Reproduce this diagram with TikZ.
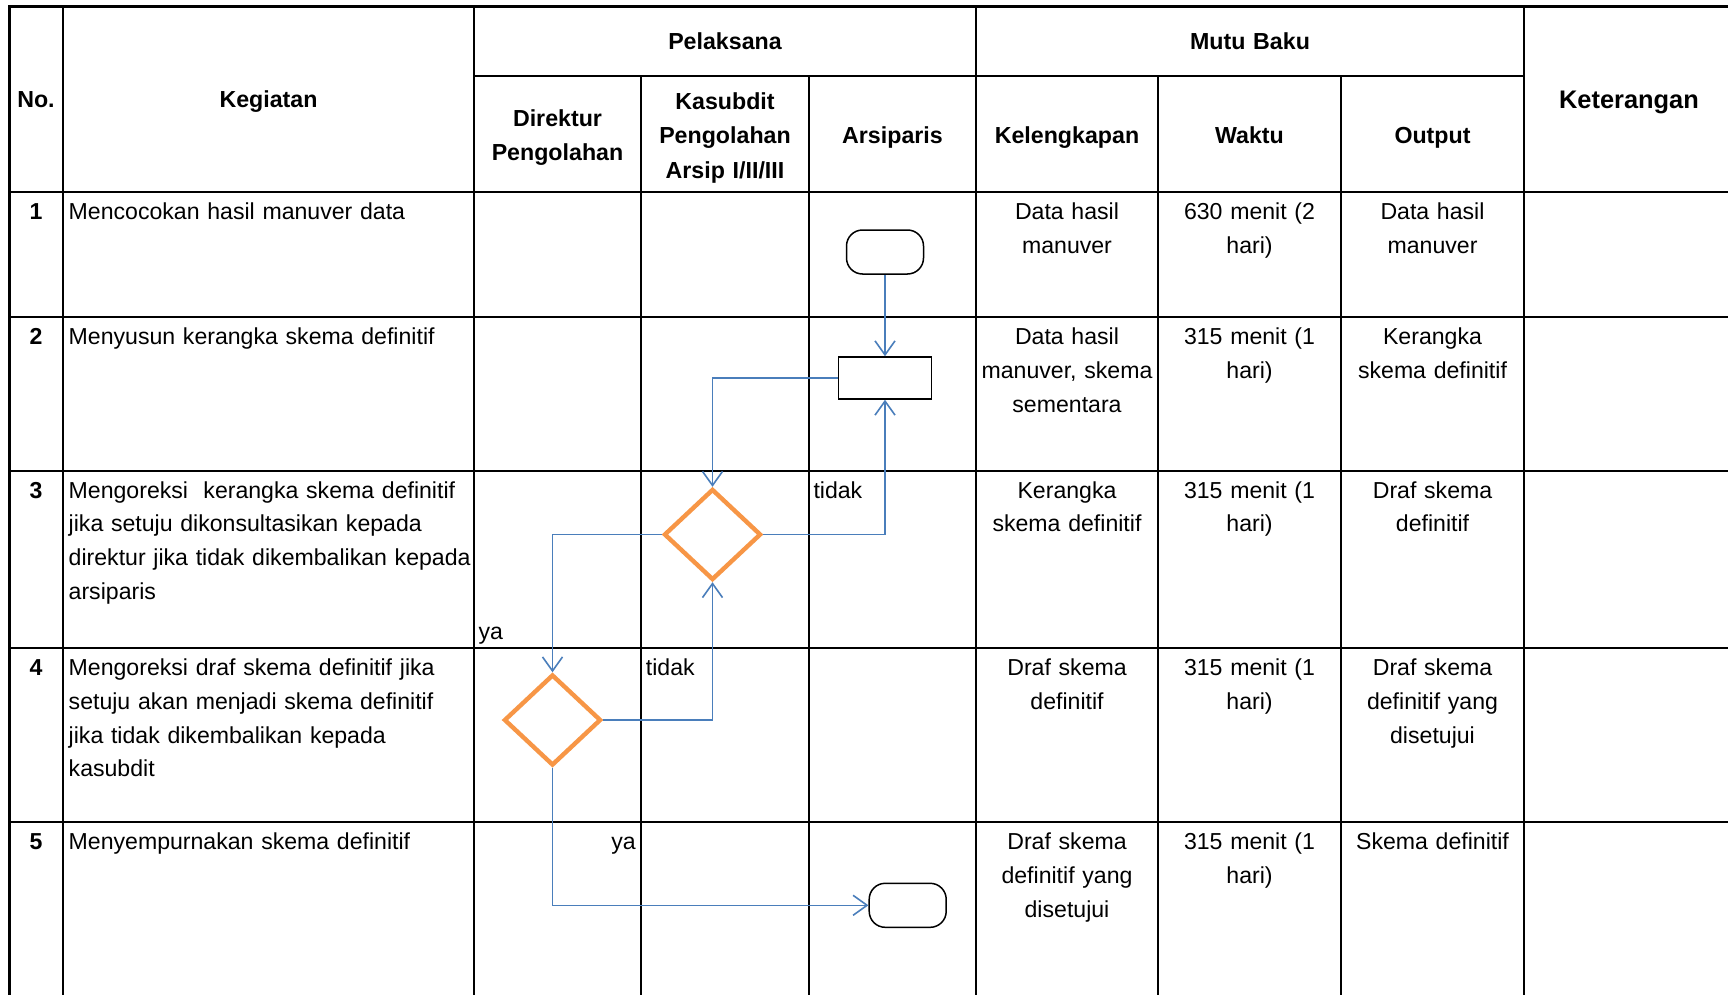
\documentclass[tikz,border=0pt]{standalone}
\usepackage{fontspec}
\setmainfont{Liberation Sans}
\usetikzlibrary{arrows.meta,shapes.geometric}
\definecolor{flowblue}{HTML}{4A7EBB}
\definecolor{floworange}{HTML}{F79646}
\begin{document}
\begin{tikzpicture}[x=1pt,y=-1pt,
  grid/.style={line width=2.2pt,line cap=rect},
  txt/.style={font=\fontsize{23.1}{33.8}\selectfont, inner sep=0pt},
  hd/.style={txt, font=\fontsize{23.2}{34.2}\selectfont\bfseries, anchor=base,
    align=center, text width=#1},
  hd/.default=170pt,
  cellc/.style={txt, anchor=base, align=center, text width=#1},
  cellc/.default=176pt,
  celll/.style={txt, anchor=base west, align=left, text width=430pt},
  num/.style={txt, anchor=base, font=\fontsize{23.1}{33.8}\selectfont\bfseries},
  terminal/.style={draw=black, line width=1.5pt, rounded corners=16pt,
    minimum width=77pt, minimum height=44pt, inner sep=0pt},
  process/.style={draw=black, line width=1.5pt, minimum width=93pt,
    minimum height=42pt, inner sep=0pt},
  decision/.style={diamond, draw=floworange, line width=4.4pt, aspect=1,
    minimum width=97pt, minimum height=91pt, inner sep=0pt},
  flow/.style={draw=flowblue, line width=1.6pt,
    -{Straight Barb[length=14pt,width=20pt,line width=1.6pt]}},
  lbl/.style={txt}
]
\useasboundingbox (0,0) rectangle (1728,995);
\fill[white] (0,0) rectangle (1728,995);

% table rules
\draw[grid] (9.5,6.5) -- (1728,6.5);
\draw[grid] (474,76) -- (1524,76);
\foreach \y in {192,317,470.6,648,822}
  \draw[grid] (9.5,\y) -- (1728,\y);
\foreach \x in {9.5,63,474,976,1524}
  \draw[grid] (\x,6.5) -- (\x,995);
\foreach \x in {641,809,1158,1341}
  \draw[grid] (\x,76) -- (\x,995);

% header
\node[hd=50pt] (hno) at (36,107.6) {No.};
\node[hd] (hkeg) at (268.5,107.6) {Kegiatan};
\node[hd] (hpel) at (725,49.2) {Pelaksana};
\node[hd] (hmutu) at (1250,49.2) {Mutu Baku};
\node[hd=165pt] (hdir) at (557.5,126.3) {Direktur\\Pengolahan};
\node[hd=165pt] (hkas) at (725,109.8) {Kasubdit\\Pengolahan\\Arsip I/II/III};
\node[hd=165pt] (hars) at (892.5,144) {Arsiparis};
\node[hd=180pt] (hkel) at (1067,144) {Kelengkapan};
\node[hd=180pt] (hwak) at (1249.5,144) {Waktu};
\node[hd=180pt] (hout) at (1432.5,144) {Output};
\node[hd, font=\fontsize{25.4}{34.2}\selectfont\bfseries] (hket) at (1629,108.3) {Keterangan};

% row 1
\node[num] (n1) at (36,219.5) {1};
\node[celll] (k1) at (68.5,219.5) {Mencocokan hasil manuver data};
\node[cellc] (l1) at (1067,219.5) {Data hasil\\manuver};
\node[cellc] (w1) at (1249.5,219.5) {630 menit (2\\hari)};
\node[cellc] (o1) at (1432.5,219.5) {Data hasil\\manuver};

% row 2
\node[num] (n2) at (36,344.5) {2};
\node[celll] (k2) at (68.5,344.5) {Menyusun kerangka skema definitif};
\node[cellc] (l2) at (1067,344.5) {Data hasil\\manuver, skema\\sementara};
\node[cellc] (w2) at (1249.5,344.5) {315 menit (1\\hari)};
\node[cellc] (o2) at (1432.5,344.5) {Kerangka\\skema definitif};

% row 3
\node[num] (n3) at (36,498) {3};
\node[celll] (k3) at (68.5,498) {Mengoreksi\ \ kerangka skema definitif\\jika setuju dikonsultasikan kepada\\direktur jika tidak dikembalikan kepada\\arsiparis};
\node[cellc] (l3) at (1067,498) {Kerangka\\skema definitif};
\node[cellc] (w3) at (1249.5,498) {315 menit (1\\hari)};
\node[cellc] (o3) at (1432.5,498) {Draf skema\\definitif};

% row 4
\node[num] (n4) at (36,675.5) {4};
\node[celll] (k4) at (68.5,675.5) {Mengoreksi draf skema definitif jika\\setuju akan menjadi skema definitif\\jika tidak dikembalikan kepada\\kasubdit};
\node[cellc] (l4) at (1067,675.5) {Draf skema\\definitif};
\node[cellc] (w4) at (1249.5,675.5) {315 menit (1\\hari)};
\node[cellc] (o4) at (1432.5,675.5) {Draf skema\\definitif yang\\disetujui};

% row 5
\node[num] (n5) at (36,849.5) {5};
\node[celll] (k5) at (68.5,849.5) {Menyempurnakan skema definitif};
\node[cellc] (l5) at (1067,849.5) {Draf skema\\definitif yang\\disetujui};
\node[cellc] (w5) at (1249.5,849.5) {315 menit (1\\hari)};
\node[cellc] (o5) at (1432.5,849.5) {Skema definitif};

% flowchart symbols
\node[terminal] (start) at (885,252) {};
\node[process] (proc) at (885,378) {};
\node[decision] (d1) at (712.5,534.5) {};
\node[decision] (d2) at (552.5,720) {};
\node[terminal] (stop) at (907.7,905.3) {};

% connectors
\draw[flow] (start.south) -- (proc.north);
\draw[flow] (proc.west) -| (d1.north);
\draw[flow] (d1.east) -| (proc.south);
\draw[flow] (d1.west) -| (d2.north);
\draw[flow] (d2.east) -| (d1.south);
\draw[flow] (d2.south) |- (stop.west);

% branch labels
\node[lbl, anchor=base west] (t1) at (813.3,498) {tidak};
\node[lbl, anchor=base west] (y1) at (478.3,639.5) {ya};
\node[lbl, anchor=base west] (t2) at (645.7,675.5) {tidak};
\node[lbl, anchor=base east] (y2) at (636,849.5) {ya};
\end{tikzpicture}
\end{document}
